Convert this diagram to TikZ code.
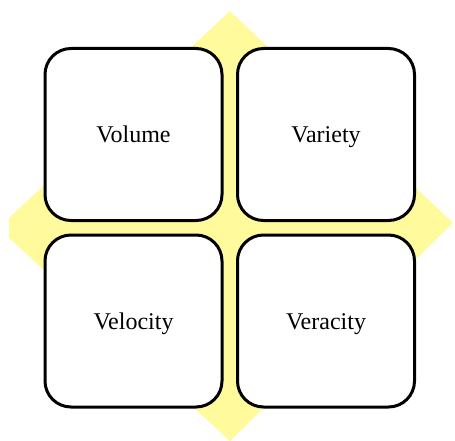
\documentclass[tikz,border=0pt]{standalone}
\usepackage{fontspec}
\setmainfont{Liberation Serif}
\definecolor{paleyellow}{RGB}{255,250,155}
\tikzset{
  vbox/.style={draw=black, line width=3pt, fill=white, rounded corners=26pt,
    minimum width=177pt, minimum height=172pt, inner sep=0pt,
    text height=16pt, text depth=0pt,
    font=\fontsize{24}{28}\selectfont}
}
\begin{document}
\begin{tikzpicture}[x=1pt,y=-1pt]
  \useasboundingbox (0,0) rectangle (455,441);
  % yellow backdrop diamond
  \fill[paleyellow] (230,11) -- (453,223) -- (230,441) -- (9,238) -- (9,218) -- cycle;
  % the four quadrants
  \node[vbox] (volume)   at (133.5,134.5) {Volume};
  \node[vbox] (variety)  at (326,134.5)   {Variety};
  \node[vbox] (velocity) at (133.5,321)   {Velocity};
  \node[vbox] (veracity) at (326,321)     {Veracity};
\end{tikzpicture}
\end{document}
